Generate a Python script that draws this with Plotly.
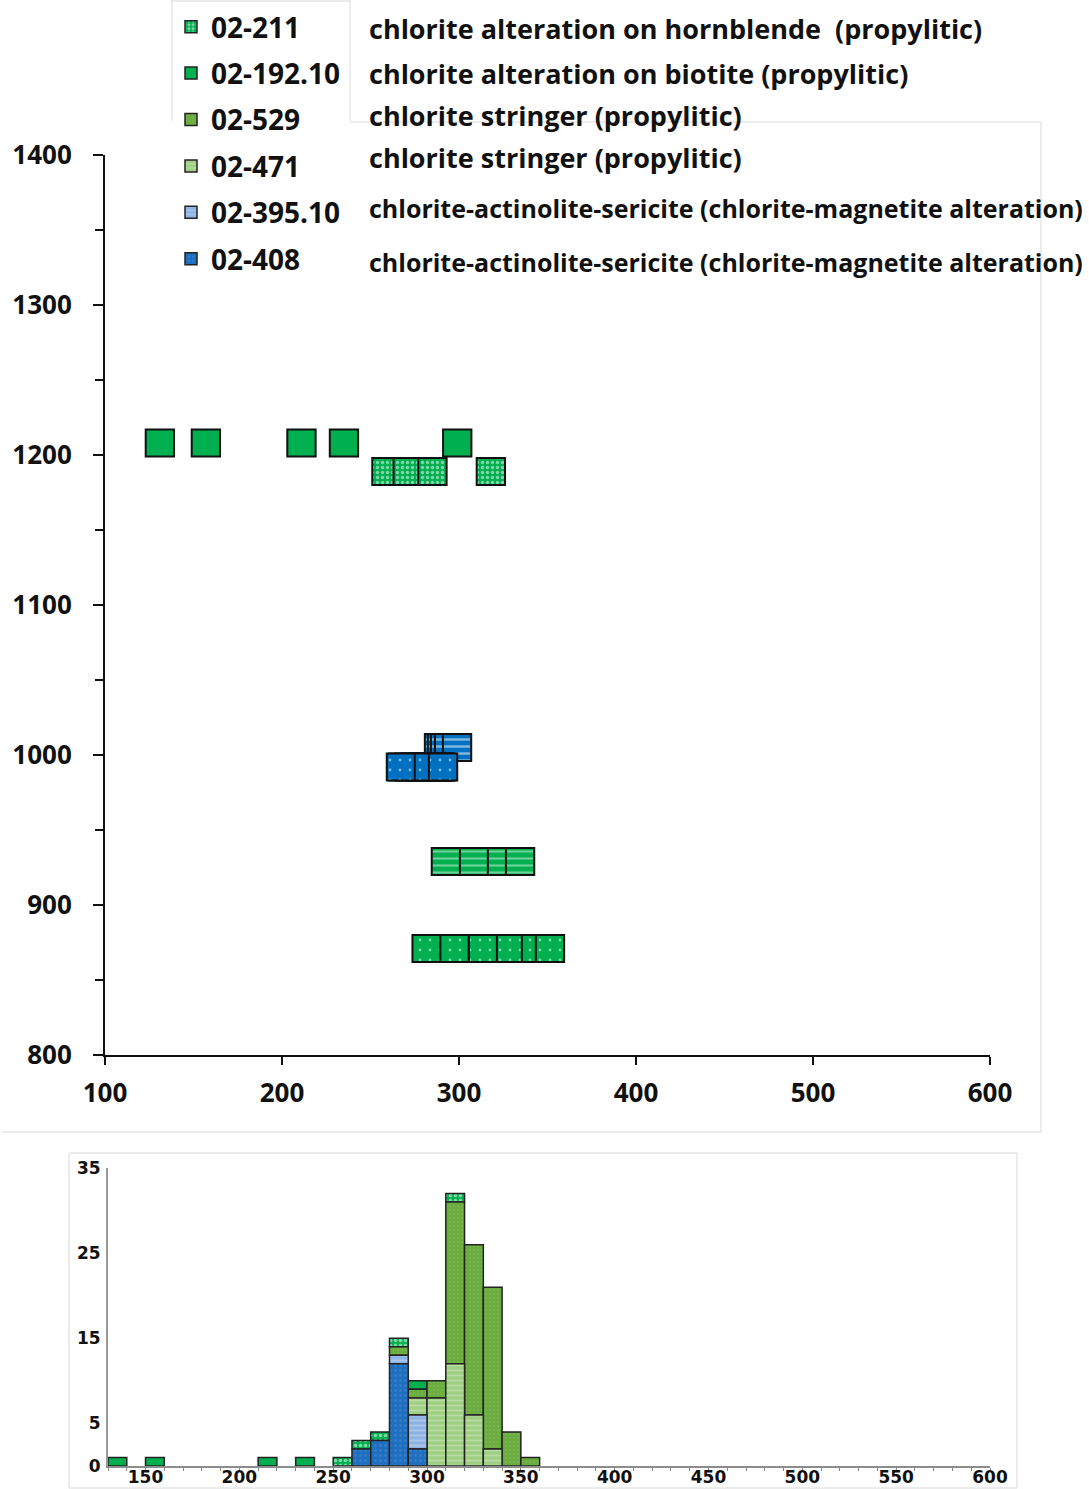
import numpy as np
import plotly.graph_objects as go

# Sample IDs (legend order) and their descriptions
samples = ["02-211", "02-192.10", "02-529", "02-471", "02-395.10", "02-408"]
descriptions = [
    "chlorite alteration on hornblende  (propylitic)",
    "chlorite alteration on biotite (propylitic)",
    "chlorite stringer (propylitic)",
    "chlorite stringer (propylitic)",
    "chlorite-actinolite-sericite (chlorite-magnetite alteration)",
    "chlorite-actinolite-sericite (chlorite-magnetite alteration)",
]
desc_size = [27, 27, 27, 27, 25, 25]

# Elevation of each sample (m)
elevation = {
    "02-211": 1189,
    "02-192.10": 1208,
    "02-529": 871,
    "02-471": 929,
    "02-395.10": 1005,
    "02-408": 992,
}

# Chlorite thermometry temperatures (deg C) per sample, in plotting order
temp_211 = [265, 259, 271, 285, 318]
temp_192 = [131, 157, 211, 235, 299]
temp_529 = [303, 307,
            310.2, 311.4, 311.9, 312.6, 313.1, 314.3, 314.9, 315.2, 315.7,
            316.4, 316.8, 317.1, 317.6, 318.2, 318.5, 318.9, 319.3, 319.7,
            320.1, 320.6, 321.2, 321.5, 322.3, 322.7, 323.1, 323.8, 324.2, 324.6,
            325.3, 325.9, 326.2, 326.8, 327.1, 327.7, 328.3, 328.6, 329.8,
            330.4, 330.9, 331.3, 331.8, 332.4, 332.9, 333.2, 333.7, 334.1, 334.6,
            335.3, 335.8, 336.2, 336.7, 337.1, 337.6, 338.4, 338.9, 339.5,
            341.2, 345.9, 348.1,
            281.7, 297.5, 313.6, 329.4, 343.5, 351.4]
temp_471 = [294, 301, 303, 304.5, 306, 307, 309, 309.5,
            310.5, 311, 312, 313, 314, 315, 316, 317, 317.5, 318, 319, 319.5,
            321, 322.5, 326, 327.5, 329, 332,
            292.6, 308.5, 324.3, 334.5]
temp_395 = [288.7, 290.4, 292.1, 294.4, 298.9]
temp_408 = [268.5, 272, 275, 278,
            280, 281, 282, 284, 285, 285.5, 286, 287, 288, 288.5, 289,
            290, 267.2, 283, 291]

temps = {
    "02-211": temp_211,
    "02-192.10": temp_192,
    "02-529": temp_529,
    "02-471": temp_471,
    "02-395.10": temp_395,
    "02-408": temp_408,
}

# Histogram bins (deg C)
bin_edges = np.arange(130, 610, 10)
stack_order = ["02-408", "02-395.10", "02-471", "02-529", "02-192.10", "02-211"]

GREEN = "#00b050"
BLUE = "#0070c0"

# Fill styles for the elevation panel squares
top_style = {
    "02-211": dict(shape=".", fgcolor="white", bgcolor=GREEN, size=5, solidity=0.35),
    "02-192.10": dict(shape="", bgcolor=GREEN),
    "02-529": dict(shape=".", fgcolor="white", bgcolor=GREEN, size=10, solidity=0.06),
    "02-471": dict(shape="-", fgcolor="#d9f2e1", bgcolor=GREEN, size=7, solidity=0.3),
    "02-395.10": dict(shape="-", fgcolor="white", bgcolor=BLUE, size=7, solidity=0.35),
    "02-408": dict(shape=".", fgcolor="white", bgcolor=BLUE, size=10, solidity=0.06),
}
top_color = {"02-211": GREEN, "02-192.10": GREEN, "02-529": GREEN,
             "02-471": GREEN, "02-395.10": BLUE, "02-408": BLUE}

# Fill styles for the histogram
hist_style = {
    "02-211": dict(shape=".", fgcolor="white", bgcolor=GREEN, size=5, solidity=0.4),
    "02-192.10": dict(shape="", bgcolor=GREEN),
    "02-529": dict(shape=".", fgcolor="#82bd5c", bgcolor="#6aab3f", size=4, solidity=0.3),
    "02-471": dict(shape="-", fgcolor="#d4eac4", bgcolor="#9fcf83", size=5, solidity=0.35),
    "02-395.10": dict(shape="-", fgcolor="#c5d9f1", bgcolor="#8db3e2", size=5, solidity=0.4),
    "02-408": dict(shape=".", fgcolor="#4d8fd6", bgcolor="#1f6fc0", size=5, solidity=0.2),
}
hist_color = {"02-211": GREEN, "02-192.10": GREEN, "02-529": "#6aab3f",
              "02-471": "#9fcf83", "02-395.10": "#8db3e2", "02-408": "#1f6fc0"}

fig = go.Figure()

# Upper panel: temperature vs elevation, drawn as square tiles
half_w = 8     # deg C
tile_h = 18    # m
for s in samples:
    t = temps[s]
    fig.add_trace(go.Bar(
        orientation="h",
        y=[elevation[s]] * len(t),
        x=[2 * half_w] * len(t),
        base=[v - half_w for v in t],
        width=tile_h,
        marker=dict(color=top_color[s], pattern=top_style[s],
                    line=dict(color="#111111", width=2)),
        xaxis="x", yaxis="y",
        showlegend=False, hoverinfo="skip",
    ))

# Lower panel: stacked histogram (bases accumulated bottom-up)
centers = (bin_edges[:-1] + bin_edges[1:]) / 2
counts = {}
bases = {}
bottom = np.zeros(len(bin_edges) - 1)
for s in stack_order:
    c, _ = np.histogram(temps[s], bins=bin_edges)
    counts[s] = c
    bases[s] = bottom.copy()
    bottom = bottom + c

for s in samples:
    nz = counts[s] > 0
    fig.add_trace(go.Bar(
        x=centers[nz], y=counts[s][nz], base=bases[s][nz], width=10,
        marker=dict(color=hist_color[s], pattern=hist_style[s],
                    line=dict(color="#222222", width=1.5)),
        name=s, legendgroup=s,
        xaxis="x2", yaxis="y2", hoverinfo="skip",
    ))

W, H = 1089, 1489
def px_x(p):
    return p / W
def px_y(p):
    return 1 - p / H

# Sample descriptions beside the legend
desc_y = [28, 73, 115, 158, 208, 262]
annotations = []
for d, yy, fs in zip(descriptions, desc_y, desc_size):
    annotations.append(dict(
        x=px_x(367), y=px_y(yy), xref="paper", yref="paper",
        xanchor="left", yanchor="middle", text=d, showarrow=False,
        font=dict(family="Open Sans", size=fs, color="#111111", weight="bold"),
    ))

frame = dict(color="#d9d9d9", width=1)
shapes = [
    dict(type="line", xref="paper", yref="paper", x0=px_x(172), x1=px_x(172),
         y0=px_y(0), y1=px_y(121), line=frame, layer="below"),
    dict(type="line", xref="paper", yref="paper", x0=px_x(350), x1=px_x(350),
         y0=px_y(0), y1=px_y(121), line=frame, layer="below"),
    dict(type="line", xref="paper", yref="paper", x0=px_x(172), x1=px_x(350),
         y0=px_y(1), y1=px_y(1), line=frame, layer="below"),
    dict(type="line", xref="paper", yref="paper", x0=px_x(350), x1=px_x(1041),
         y0=px_y(122), y1=px_y(122), line=frame, layer="below"),
    dict(type="line", xref="paper", yref="paper", x0=px_x(1041), x1=px_x(1041),
         y0=px_y(122), y1=px_y(1132), line=frame, layer="below"),
    dict(type="line", xref="paper", yref="paper", x0=px_x(2), x1=px_x(1041),
         y0=px_y(1132), y1=px_y(1132), line=frame, layer="below"),
    dict(type="rect", xref="paper", yref="paper", x0=px_x(69), x1=px_x(1017),
         y0=px_y(1153), y1=px_y(1488), line=frame, layer="below"),
]

top_font = dict(family="Open Sans", size=26, color="#111111", weight="bold")
low_font = dict(family="DejaVu Sans", size=17, color="#111111", weight="bold")

fig.update_layout(
    width=W, height=H,
    margin=dict(l=0, r=0, t=0, b=0, autoexpand=False),
    paper_bgcolor="white", plot_bgcolor="white",
    barmode="overlay",
    xaxis=dict(domain=[px_x(105), px_x(990)], range=[100, 600], type="linear",
               tickvals=[100, 200, 300, 400, 500, 600], ticks="outside",
               ticklen=8, tickwidth=2, tickcolor="#111111",
               showline=True, linecolor="#111111", linewidth=2,
               showgrid=False, zeroline=False, tickfont=top_font,
               ticklabelstandoff=6, anchor="y", automargin=False),
    yaxis=dict(domain=[px_y(1055), px_y(155)], range=[800, 1400], type="linear",
               tickvals=[800, 900, 1000, 1100, 1200, 1300, 1400], ticks="outside",
               ticklen=10, tickwidth=2, tickcolor="#111111",
               minor=dict(tickvals=[850, 950, 1050, 1150, 1250, 1350], ticks="outside",
                          ticklen=8, tickwidth=2, tickcolor="#111111"),
               showline=True, linecolor="#111111", linewidth=2,
               showgrid=False, zeroline=False, tickfont=top_font,
               ticklabelstandoff=16, anchor="x", automargin=False),
    xaxis2=dict(domain=[px_x(108), px_x(990)], range=[130, 600], type="linear",
                tickvals=[150, 200, 250, 300, 350, 400, 450, 500, 550, 600],
                ticks="outside", ticklen=4, tickwidth=1, tickcolor="#888888",
                minor=dict(dtick=10, tick0=130, ticks="outside", ticklen=3,
                           tickwidth=1, tickcolor="#888888"),
                showline=True, linecolor="#8c8c8c", linewidth=2,
                showgrid=False, zeroline=False, tickfont=low_font,
                ticklabelstandoff=-9, anchor="y2", automargin=False),
    yaxis2=dict(domain=[px_y(1466), px_y(1168)], range=[0, 35], type="linear",
                tickvals=[0, 5, 15, 25, 35], ticks="",
                showline=True, linecolor="#999999", linewidth=2,
                showgrid=False, zeroline=False, tickfont=low_font,
                ticklabelstandoff=2, anchor="x2", automargin=False),
    legend=dict(x=px_x(171), y=px_y(2), xanchor="left", yanchor="top",
                traceorder="grouped", tracegroupgap=7,
                font=dict(family="Open Sans", size=28, color="#111111", weight="bold"),
                bgcolor="rgba(0,0,0,0)", borderwidth=0),
    annotations=annotations,
    shapes=shapes,
)

fig.write_html("out.html")
